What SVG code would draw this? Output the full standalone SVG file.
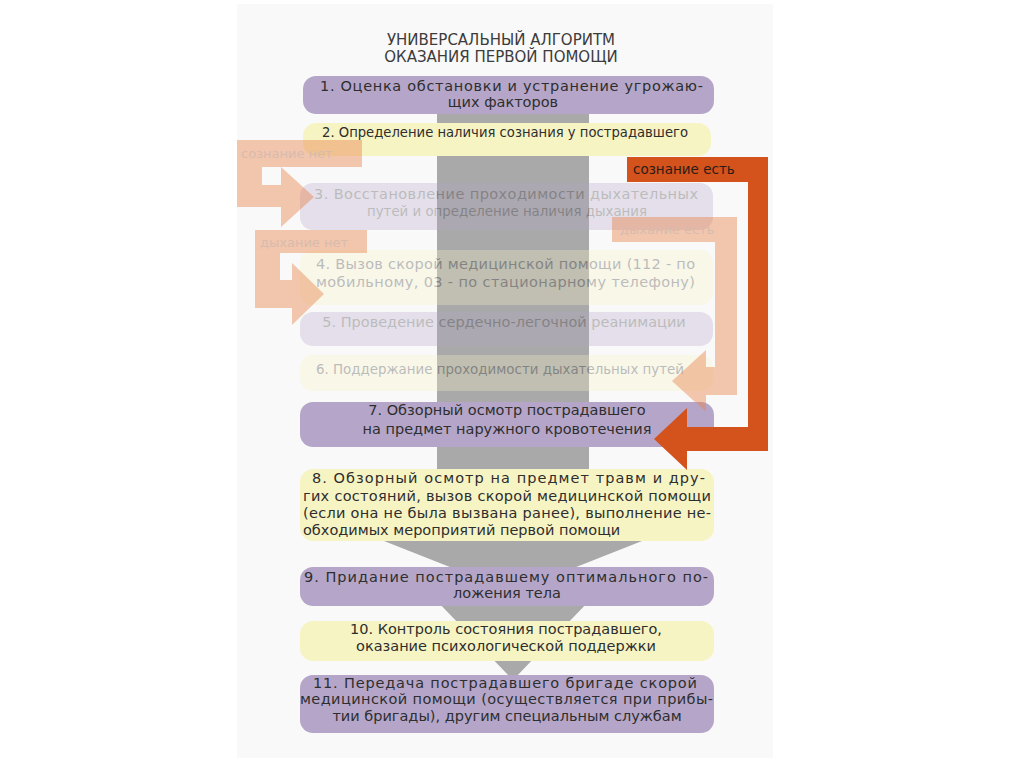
<svg xmlns="http://www.w3.org/2000/svg" width="1024" height="767" viewBox="0 0 1024 767">
<style>
.t{font-family:"DejaVu Sans","Liberation Sans",sans-serif;font-size:14.5px;fill:#2e2e2e}
.c{text-anchor:middle}
.title{font-family:"DejaVu Sans","Liberation Sans",sans-serif;font-size:15px;fill:#3c3c3c;text-anchor:middle}
.p{fill:#b5a6c9}
.y{fill:#f7f4c4}
.faded{opacity:.3}
.g{fill:#a9a9a9}
.fo{fill:#e98650;opacity:.45}
.fl{font-family:"DejaVu Sans","Liberation Sans",sans-serif;font-size:13px;fill:#d7bcae}
.do{fill:#d4521c}
.dl{font-family:"DejaVu Sans","Liberation Sans",sans-serif;font-size:13.5px;fill:#2b1d16}
</style>
<rect x="0" y="0" width="1024" height="767" fill="#ffffff"/>
<rect x="237" y="4" width="536" height="754" fill="#f9f9f9"/>
<g id="title">
<text class="title" x="501" y="45">УНИВЕРСАЛЬНЫЙ АЛГОРИТМ</text>
<text class="title" x="501" y="62">ОКАЗАНИЯ ПЕРВОЙ ПОМОЩИ</text>
</g>
<g id="connectors">
<rect class="g" x="437" y="113" width="152" height="432"/>
<polygon class="g" points="384,541 642,541 513,592"/>
<polygon class="g" points="436,600 590,600 513,680"/>
</g>
<g id="node-1">
<rect class="p" x="303" y="76" width="411" height="38" rx="13"/>
<text class="t" x="320" y="91" textLength="383">1. Оценка обстановки и устранение угрожаю-</text>
<text class="t c" x="503" y="107">щих факторов</text>
</g>
<g id="node-2">
<rect class="y" x="303" y="123" width="408" height="33" rx="13"/>
<text class="t" x="322" y="137" textLength="366" lengthAdjust="spacingAndGlyphs">2. Определение наличия сознания у пострадавшего</text>
</g>
<g id="node-3" class="faded">
<rect class="p" x="300" y="183" width="413" height="47" rx="13"/>
<text class="t" x="314" y="199" textLength="384">3. Восстановление проходимости дыхательных</text>
<text class="t" x="367" y="216" textLength="280" lengthAdjust="spacingAndGlyphs">путей и определение наличия дыхания</text>
</g>
<g id="node-4" class="faded">
<rect class="y" x="300" y="250" width="413" height="55" rx="13"/>
<text class="t" x="316" y="269" textLength="379">4. Вызов скорой медицинской помощи (112 - по</text>
<text class="t" x="316" y="287" textLength="379">мобильному, 03 - по стационарному телефону)</text>
</g>
<g id="node-5" class="faded">
<rect class="p" x="300" y="312" width="413" height="34" rx="13"/>
<text class="t c" x="504" y="327">5. Проведение сердечно-легочной реанимации</text>
</g>
<g id="node-6" class="faded">
<rect class="y" x="300" y="355" width="413" height="36" rx="13"/>
<text class="t" x="316" y="374" textLength="368" lengthAdjust="spacingAndGlyphs">6. Поддержание проходимости дыхательных путей</text>
</g>
<g id="node-7">
<rect class="p" x="300" y="402" width="414" height="45" rx="13"/>
<text class="t c" x="507" y="415">7. Обзорный осмотр пострадавшего</text>
<text class="t c" x="507" y="434">на предмет наружного кровотечения</text>
</g>
<g id="node-8">
<rect class="y" x="300" y="469" width="414" height="72" rx="13"/>
<text class="t" x="312" y="483" textLength="393">8. Обзорный осмотр на предмет травм и дру-</text>
<text class="t" x="303" y="501" textLength="408">гих состояний, вызов скорой медицинской помощи</text>
<text class="t" x="303" y="518" textLength="408">(если она не была вызвана ранее), выполнение не-</text>
<text class="t" x="303" y="535">обходимых мероприятий первой помощи</text>
</g>
<g id="node-9">
<rect class="p" x="300" y="567" width="414" height="39" rx="13"/>
<text class="t" x="304" y="582" textLength="404">9. Придание пострадавшему оптимального по-</text>
<text class="t c" x="507" y="598">ложения тела</text>
</g>
<g id="node-10">
<rect class="y" x="300" y="621" width="414" height="40" rx="13"/>
<text class="t c" x="506" y="634">10. Контроль состояния пострадавшего,</text>
<text class="t c" x="506" y="651">оказание психологической поддержки</text>
</g>
<g id="node-11">
<rect class="p" x="300" y="675" width="414" height="58" rx="13"/>
<text class="t" x="313" y="688" textLength="384">11. Передача пострадавшего бригаде скорой</text>
<text class="t" x="300" y="704" textLength="413">медицинской помощи (осуществляется при прибы-</text>
<text class="t c" x="507" y="721">тии бригады), другим специальным службам</text>
</g>
<g id="branch-connectors">
<path class="fo" d="M237,140 H362 V167 H262 V185 H281 V167 L314,197 L281,227 V207 H237 Z"/>
<text class="fl" x="241" y="158">сознание нет</text>
<path class="fo" d="M255,230 H367 V253 H280 V280 H292 V263 L324,294 L292,325 V308 H255 Z"/>
<text class="fl" x="260" y="247">дыхание нет</text>
<path class="fo" d="M612,217 H737 V395 H706 V412 L672,381 L706,350 V367 H715 V242 H612 Z"/>
<text class="fl" x="620" y="234">дыхание есть</text>
<path class="do" d="M627,157 H768 V451 H687 V470 L654,439 L687,408 V427 H748 V182 H627 Z"/>
<text class="dl" x="633" y="174">сознание есть</text>
</g>
</svg>
